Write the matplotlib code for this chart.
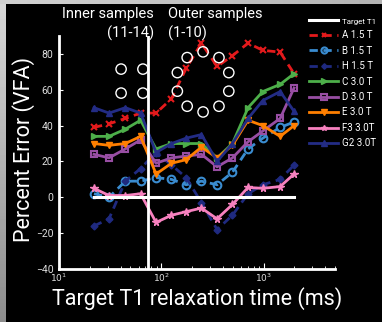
import numpy as np
import matplotlib
matplotlib.use("Agg")
from matplotlib import pyplot as plt

# target T1 of the phantom spheres (ms), inner 14..11 then outer 10..1
t1 = [21.98, 30.84, 44.53, 62.7, 89.0, 125.9, 175.3, 247.1, 351.5, 496.7, 706.0, 984.1, 1454.0, 1989.0]

# percent error per scanner
err_a = [39, 41, 44, 47, 47, 55, 72, 86, 73, 79, 86, 82, 81, 69]
err_b = [2, 0, 9, 9, 11, 10, 7, 9, 7, 14, 27, 33, 39, 42]
err_h = [-16, -12, 9, 16, 25, 18, 11, -3, -18, -10, 2, 7, 10, 18]
err_c = [34, 34, 38, 43, 27, 30, 30, 30, 22, 30, 50, 59, 63, 69]
err_d = [24, 22, 27, 32, 19, 22, 23, 24, 17, 22, 31, 37, 44, 61]
err_e = [30, 29, 30, 34, 13, 19, 21, 28, 22, 29, 43, 40, 34, 40]
err_f3 = [5, 1, 1, 2, -14, -10, -8, -6, -12, -4, 5.5, 5, 6, 13]
err_g2 = [50, 47, 50, 47, 25, 30, 33, 35, 20, 30, 44, 54, 59, 48]

W, H = 382, 322
plt.rcParams['font.family'] = ['Roboto', 'DejaVu Sans']

fig = plt.figure(figsize=(W / 100, H / 100), dpi=100, facecolor='black')

# grey slide edges
edge = fig.add_axes([0, 0, 6 / W, 1])
edge.imshow(np.linspace(0.85, 0.55, 100).reshape(-1, 1), cmap='gray', vmin=0, vmax=1, aspect='auto')
edge.axis('off')
top = fig.add_axes([0, 1 - 4 / H, 1, 4 / H])
top.imshow(np.linspace(0.82, 0.7, 100).reshape(1, -1), cmap='gray', vmin=0, vmax=1, aspect='auto')
top.axis('off')

ax = fig.add_axes([59 / W, (H - 269) / H, (335 - 59) / W, (269 - 36) / H])
ax.set_facecolor('black')

lw = 2
ax.plot([min(t1), max(t1)], [0, 0], color='white', lw=2.2, label='Target T1', zorder=5)
ax.plot(t1, err_a, color='#e41a1c', ls='--', lw=lw, marker='x', ms=4, mew=1.5, label='A 1.5 T', dashes=(3, 2))
ax.plot(t1, err_b, color='#3a8cd0', ls='--', lw=lw, marker='o', ms=5.5, mfc='none', mew=1.5, label='B 1.5 T', dashes=(3, 2))
ax.plot(t1, err_h, color='#1f2a80', ls='--', lw=lw, marker='D', ms=3.5, label='H 1.5 T', dashes=(3, 2))
ax.plot(t1, err_c, color='#4daf4a', lw=lw, marker='>', ms=5, label='C 3.0 T')
ax.plot(t1, err_d, color='#984ea3', lw=lw, marker='s', ms=5, mfc='none', mew=1.5, label='D 3.0 T')
ax.plot(t1, err_e, color='#ff7f00', lw=lw, marker='v', ms=5, label='E 3.0 T')
ax.plot(t1, err_f3, color='#f781bf', lw=lw, marker='*', ms=5.5, label='F3 3.0T')
ax.plot(t1, err_g2, color='#232c85', lw=lw, marker='^', ms=5, label='G2 3.0T')
ax.axvline(75, color='white', lw=2, zorder=6)

# phantom layout sketch
inner_x = [0.225, 0.304, 0.225, 0.304]
inner_y = [0.858, 0.858, 0.755, 0.755]
ang = np.deg2rad(90 - 36 * np.arange(10))
outer_x = 0.522 + 0.098 * np.cos(ang)
outer_y = 0.803 + 0.129 * np.sin(ang)
ax.scatter(inner_x, inner_y, s=55, facecolors='none', edgecolors='white', lw=1, transform=ax.transAxes, zorder=7)
ax.scatter(outer_x, outer_y, s=55, facecolors='none', edgecolors='white', lw=1, transform=ax.transAxes, zorder=7)

ax.set_xscale('log')
ax.set_xlim(10, 5000)
ax.set_ylim(-40, 90)
ax.set_yticks([-40, -20, 0, 20, 40, 60, 80])
ax.set_xticks([10, 100, 1000])
ax.set_xticklabels(['$10^1$', '$10^2$', '$10^3$'])
for s in ['top', 'right']:
    ax.spines[s].set_visible(False)
for s in ['left', 'bottom']:
    ax.spines[s].set_color('white')
    ax.spines[s].set_linewidth(2)
ax.tick_params(axis='y', colors='white', labelcolor='#dddddd', labelsize=7.5, direction='in', length=3, pad=4)
ax.tick_params(axis='x', which='major', colors='white', labelcolor='#dddddd', labelsize=6.5, direction='in', length=4, pad=2)
ax.tick_params(axis='x', which='minor', colors='white', direction='in', length=2)

fig.text(24 / W, 1 - 149 / H, 'Percent Error (VFA)', color='white', fontsize=15.5, rotation=90, ha='center', va='center')
fig.text(197 / W, 1 - 299 / H, 'Target T1 relaxation time (ms)', color='white', fontsize=15.5, ha='center', va='center')
fig.text(154 / W, 1 - 14 / H, 'Inner samples', color='white', fontsize=10.5, ha='right', va='center')
fig.text(154 / W, 1 - 33 / H, '(11-14)', color='white', fontsize=10.5, ha='right', va='center')
fig.text(168 / W, 1 - 14 / H, 'Outer samples', color='white', fontsize=10.5, ha='left', va='center')
fig.text(168 / W, 1 - 33 / H, '(1-10)', color='white', fontsize=10.5, ha='left', va='center')

leg = ax.legend(loc='upper left', bbox_to_anchor=(309 / W, 1 - 17 / H), bbox_transform=fig.transFigure,
                frameon=False, fontsize=7, handlelength=3.0, handletextpad=0.4, labelspacing=0.56,
                borderpad=0, borderaxespad=0, markerscale=0.8)
for t in leg.get_texts():
    t.set_color('white')
leg.get_texts()[0].set_fontsize(5.8)

plt.savefig('out.png', dpi=100, facecolor='black')
